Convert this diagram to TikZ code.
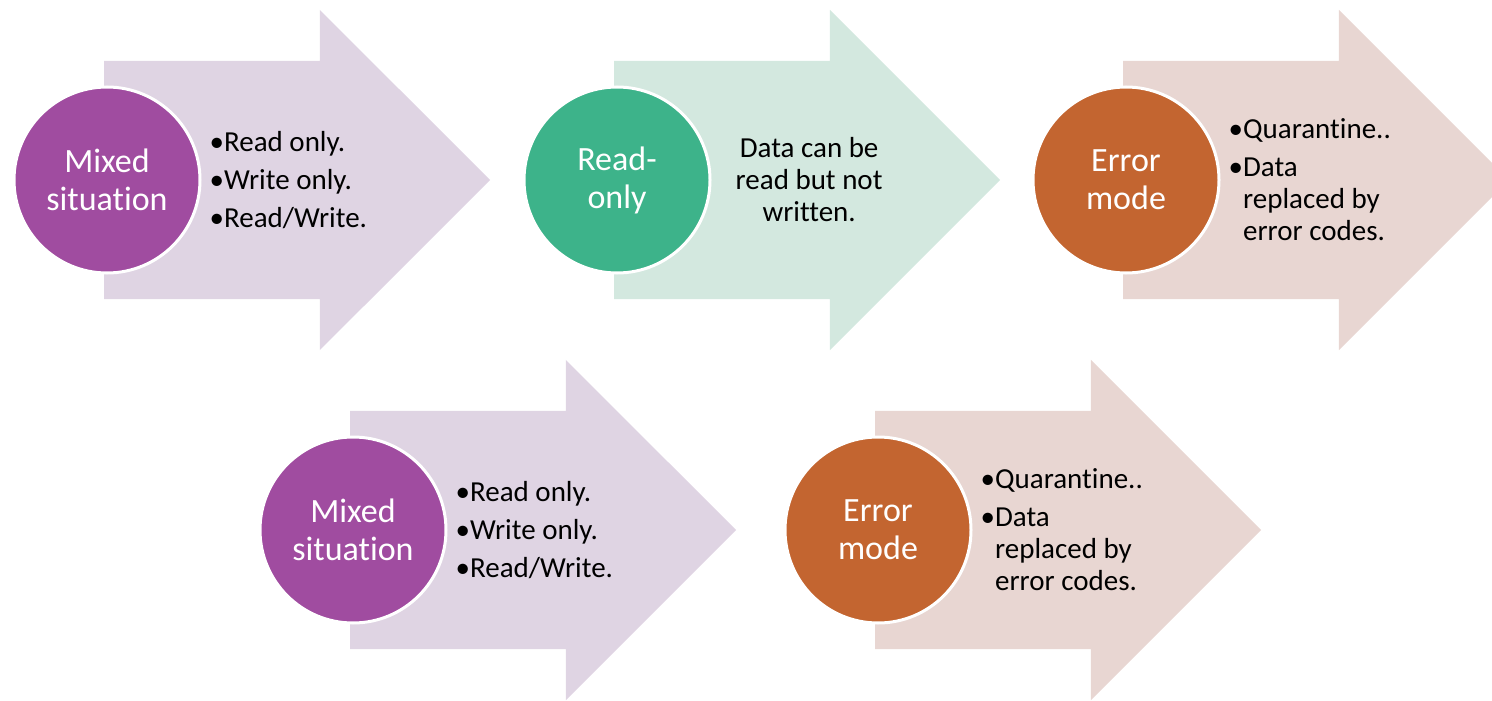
\documentclass[tikz,border=0pt]{standalone}
\usepackage{fontspec}
\setmainfont{Carlito}[Ligatures=CommonOff]
\usetikzlibrary{shapes.arrows,positioning}

\definecolor{mixdark}{HTML}{A04CA0}
\definecolor{mixlight}{HTML}{DFD4E3}
\definecolor{readdark}{HTML}{3DB38A}
\definecolor{readlight}{HTML}{D3E8DF}
\definecolor{errdark}{HTML}{C36530}
\definecolor{errlight}{HTML}{E8D6D2}

\begin{document}
\begin{tikzpicture}
    [
        x=1pt, y=-1pt,
        band/.style={single arrow, single arrow head extend=51pt,
            minimum height=386pt, inner xsep=0pt, inner ysep=119pt,
            outer sep=0pt, anchor=tail, draw=none},
        badge/.style={circle, minimum size=186pt, inner sep=0pt, draw=white,
            line width=3pt, text=white, align=center,
            font=\fontsize{34}{38}\selectfont},
        note/.style={align=left, inner sep=0pt, font=\fontsize{29}{32}\selectfont},
    ]

    \useasboundingbox (0,0) rectangle (1492,701);

    % top row
    \node (a1) at (104,180)  [band, fill=mixlight] {};
    \node (a2) at (614,180)  [band, fill=readlight] {};
    \node (a3) at (1123,180) [band, fill=errlight] {};

    \node (c1) at (107,180)  [badge, fill=mixdark] {Mixed\\situation};
    \node (c2) at (617,180)  [badge, fill=readdark] {Read-\\only};
    \node (c3) at (1126,180) [badge, fill=errdark] {Error\\mode};

    \node (t1) [note, right=8pt of c1] {•Read only.\\[6pt]•Write only.\\[6pt]•Read/Write.};
    \node (t2) [note, align=center, right=24pt of c2] {Data can be\\read but not\\written.};
    \node (t3) [note, right=8pt of c3] {•Quarantine..\\[6pt]•Data\\\hphantom{•}replaced by\\\hphantom{•}error codes.};

    % bottom row
    \node (a4) at (350,530)  [band, fill=mixlight] {};
    \node (a5) at (875,530)  [band, fill=errlight] {};

    \node (c4) at (353,530)  [badge, fill=mixdark] {Mixed\\situation};
    \node (c5) at (878,530)  [badge, fill=errdark] {Error\\mode};

    \node (t4) [note, right=8pt of c4] {•Read only.\\[6pt]•Write only.\\[6pt]•Read/Write.};
    \node (t5) [note, right=8pt of c5] {•Quarantine..\\[6pt]•Data\\\hphantom{•}replaced by\\\hphantom{•}error codes.};

\end{tikzpicture}
\end{document}
